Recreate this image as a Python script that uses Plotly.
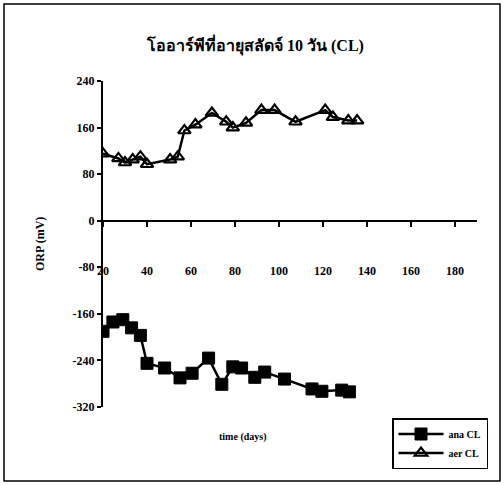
import plotly.graph_objects as go

# ORP readings over time, sludge age 10 days (CL)
ana_days = [20, 24.5, 29, 33, 37, 40, 48, 55, 60.5, 68, 74, 79, 83, 89, 93.5, 102.5, 115, 119.5, 128.5, 132]
ana_orp = [-190, -174, -170, -184, -197, -245, -253, -270, -262, -236, -281, -251, -253, -269, -260, -272, -289, -293, -291, -294]

aer_days = [20, 27, 30, 33.5, 37, 40, 50.5, 54, 57, 62, 69.5, 76, 79, 85, 92, 98, 107.5, 121, 124.5, 131.5, 135.5]
aer_orp = [115, 107, 100, 105, 110, 97, 105, 110, 155, 165, 185, 170, 160, 168, 190, 190, 170, 190, 178, 172, 172]

x_ticks = [20, 40, 60, 80, 100, 120, 140, 160, 180]
y_ticks = [-320, -240, -160, -80, 0, 80, 160, 240]

W, H = 504, 485
ML, MR, MT, MB = 103, 27, 81, 78
Y_MIN, Y_MAX = -320, 240
X_MIN, X_MAX = 20, 190
PW, PH = W - ML - MR, H - MT - MB

serif = "Liberation Serif, Times New Roman, serif"

fig = go.Figure()
fig.add_trace(go.Scatter(
    x=ana_days, y=ana_orp, name="ana CL", mode="lines+markers",
    line=dict(color="black", width=2.5),
    marker=dict(symbol="square", size=12, color="black", line=dict(color="black", width=1)),
))
fig.add_trace(go.Scatter(
    x=aer_days, y=aer_orp, name="aer CL", mode="lines+markers",
    line=dict(color="black", width=2.5),
    marker=dict(symbol="triangle-up-open", size=11, color="black", line=dict(color="black", width=2.2)),
))

zero_pos = (0 - Y_MIN) / (Y_MAX - Y_MIN)

fig.update_layout(
    width=W, height=H,
    margin=dict(l=ML, r=MR, t=MT, b=MB),
    paper_bgcolor="white", plot_bgcolor="white",
    font=dict(family=serif, color="black", size=11),
    showlegend=True,
    legend=dict(
        x=(392 - ML) / PW, y=-(418 - (H - MB)) / PH,
        xanchor="left", yanchor="top",
        bgcolor="white", bordercolor="black", borderwidth=1.5,
        font=dict(family=serif, size=10, color="black", weight="bold"),
        itemwidth=45, tracegroupgap=4,
    ),
    xaxis=dict(
        range=[X_MIN, X_MAX], tickvals=x_ticks, ticktext=[str(v) for v in x_ticks],
        showline=True, linecolor="black", linewidth=2,
        ticks="outside", ticklen=5, tickwidth=1.5, tickcolor="black",
        showgrid=False, zeroline=False,
        anchor="free", position=zero_pos,
        ticklabelstandoff=34,
        tickfont=dict(family=serif, size=12, weight="bold"),
    ),
    yaxis=dict(
        range=[Y_MIN, Y_MAX], tickvals=y_ticks, ticktext=[str(v) for v in y_ticks],
        showline=True, linecolor="black", linewidth=2,
        ticks="outside", ticklen=4, tickwidth=1.5, tickcolor="black",
        showgrid=False, zeroline=False,
        tickfont=dict(family=serif, size=12, weight="bold"),
    ),
    annotations=[
        dict(text="<b>โออาร์พีที่อายุสลัดจ์ 10 วัน (CL)</b>", xref="paper", yref="paper",
             x=(255 - ML) / PW, y=1 + (MT - 45) / PH,
             xanchor="center", yanchor="middle", showarrow=False,
             font=dict(family=serif, size=16, color="black")),
        dict(text="<b>time (days)</b>", xref="paper", yref="paper",
             x=(243 - ML) / PW, y=-(437 - (H - MB)) / PH,
             xanchor="center", yanchor="middle", showarrow=False,
             font=dict(family=serif, size=10, color="black")),
        dict(text="<b>ORP (mV)</b>", xref="paper", yref="paper", textangle=-90,
             x=-(ML - 40) / PW, y=0.5,
             xanchor="center", yanchor="middle", showarrow=False,
             font=dict(family=serif, size=12, color="black")),
    ],
    shapes=[
        dict(type="rect", xref="paper", yref="paper",
             x0=-(ML - 4) / PW, x1=1 + (MR - 4) / PW,
             y0=-(MB - 4) / PH, y1=1 + (MT - 4) / PH,
             line=dict(color="black", width=1.5), fillcolor="rgba(0,0,0,0)", layer="below"),
    ],
)

fig.write_html("out.html")
